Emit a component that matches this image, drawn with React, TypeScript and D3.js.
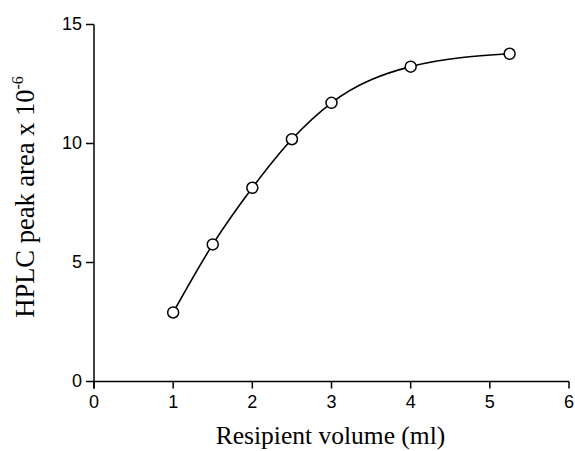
import React from "react";
import * as d3 from "d3";

const volumes = [1, 1.5, 2, 2.5, 3, 4, 5.25];
const peakAreas = [2.9, 5.76, 8.14, 10.18, 11.71, 13.23, 13.77];
const xTicks = [0, 1, 2, 3, 4, 5, 6];
const yTicks = [0, 5, 10, 15];

export default function App() {
  const W = 575, H = 451;
  const x = d3.scaleLinear().domain([0, 6]).range([94, 569]);
  const y = d3.scaleLinear().domain([0, 15]).range([381.5, 24.5]);
  const pts = volumes.map((v, i) => [v, peakAreas[i]] as [number, number]);
  const line = d3
    .line<[number, number]>()
    .x((d) => x(d[0]))
    .y((d) => y(d[1]))
    .curve(d3.curveMonotoneX);
  const sans = "'Liberation Sans', Arial, sans-serif";
  const serif = "'Liberation Serif', 'Times New Roman', serif";
  return (
    <svg
      width={W}
      height={H}
      style={{ position: "absolute", left: 0, top: 0, background: "#fff" }}
    >
      <rect width={W} height={H} fill="#fff" />
      {/* axes */}
      <line x1={x(0)} x2={x(6)} y1={y(0)} y2={y(0)} stroke="#000" strokeWidth={1.5} />
      <line x1={x(0)} x2={x(0)} y1={y(15)} y2={y(0) + 7} stroke="#000" strokeWidth={1.5} />
      {xTicks.map((t) => (
        <g key={"x" + t}>
          <line x1={x(t)} x2={x(t)} y1={y(0)} y2={y(0) + 7} stroke="#000" strokeWidth={1.5} />
          <text x={x(t)} y={408} textAnchor="middle" fontFamily={sans} fontSize={18} fill="#000">
            {t}
          </text>
        </g>
      ))}
      {yTicks.map((t) => (
        <g key={"y" + t}>
          <line x1={x(0) - 8} x2={x(0)} y1={y(t)} y2={y(t)} stroke="#000" strokeWidth={1.5} />
          <text
            x={82}
            y={y(t)}
            dy="0.3em"
            textAnchor="end"
            fontFamily={sans}
            fontSize={18}
            fill="#000"
          >
            {t}
          </text>
        </g>
      ))}
      {/* curve */}
      <path d={line(pts) || ""} fill="none" stroke="#000" strokeWidth={1.6} />
      {pts.map((p, i) => (
        <circle key={i} cx={x(p[0])} cy={y(p[1])} r={5.5} fill="#fff" stroke="#000" strokeWidth={1.5} />
      ))}
      {/* titles */}
      <text x={330.5} y={444} textAnchor="middle" fontFamily={serif} fontSize={25.5} fill="#000">
        Resipient volume (ml)
      </text>
      <text
        transform="translate(33.5,197) rotate(-90)"
        textAnchor="middle"
        fontFamily={serif}
        fontSize={26.5}
        fill="#000"
      >
        HPLC peak area x 10
        <tspan fontSize={16} dy={-11}>-6</tspan>
      </text>
    </svg>
  );
}
